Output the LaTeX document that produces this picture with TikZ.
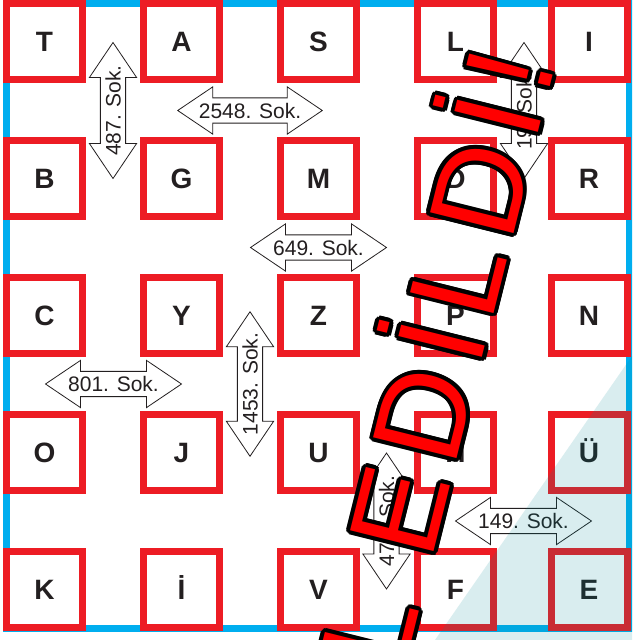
\documentclass[tikz,border=0pt]{standalone}
\usepackage{fontspec}
\setmainfont{Liberation Sans}
\newfontfamily\stampfont[LetterSpace=10]{Liberation Sans}
\usetikzlibrary{shapes.arrows}
\definecolor{mapred}{HTML}{ED1C24}
\definecolor{mapblue}{HTML}{00AEEF}
\definecolor{mapink}{HTML}{231F20}
\definecolor{mapteal}{HTML}{008B96}
\definecolor{stampred}{HTML}{FF0000}

\begin{document}
\begin{tikzpicture}[x=1pt,y=-1pt,
  block/.style={draw=mapred, line width=7pt, fill=white, minimum size=76pt, inner sep=0pt,
    text height=20pt, text depth=0pt, font=\bfseries\fontsize{28}{32}\selectfont, text=mapink},
  street/.style={shape=double arrow, draw=mapink, line width=0.8pt, fill=white,
    double arrow head extend=11pt, double arrow tip angle=68, minimum height=136pt,
    inner xsep=2pt, inner ysep=4.5pt, font=\fontsize{21}{24}\selectfont, text=mapink},
  stamp/.style={anchor=base west, inner sep=0pt, rotate=76, font=\stampfont\fontsize{125}{140}\selectfont}]
  \useasboundingbox (0,0) rectangle (632,640);
  \clip (0,0) rectangle (632,640);
  \fill[white] (0,0) rectangle (632,640);

  % Outer road
  \draw[mapblue, line width=7pt] (6.5,3.5) rectangle (629,628);

  % Blocks, row by row
  \node[block] (sqT) at (44.5,41.5) {T};
  \node[block] (sqA) at (181.5,41.5) {A};
  \node[block] (sqS) at (318.5,41.5) {S};
  \node[block] (sqL) at (455.5,41.5) {L};
  \node[block] (sqI) at (589,41.5) {I};

  \node[block] (sqB) at (44.5,178.5) {B};
  \node[block] (sqG) at (181.5,178.5) {G};
  \node[block] (sqM) at (318.5,178.5) {M};
  \node[block] (sqD) at (455.5,178.5) {D};
  \node[block] (sqR) at (589,178.5) {R};

  \node[block] (sqC) at (44.5,315.5) {C};
  \node[block] (sqY) at (181.5,315.5) {Y};
  \node[block] (sqZ) at (318.5,315.5) {Z};
  \node[block] (sqP) at (455.5,315.5) {P};
  \node[block] (sqN) at (589,315.5) {N};

  \node[block] (sqO) at (44.5,452.5) {O};
  \node[block] (sqJ) at (181.5,452.5) {J};
  \node[block] (sqU) at (318.5,452.5) {U};
  \node[block] (sqH) at (455.5,452.5) {H};
  \node[block] (sqUe) at (589,452.5) {Ü};

  \node[block] (sqK) at (44.5,589.5) {K};
  \node[block] (sqIi) at (181.5,589.5) {İ};
  \node[block] (sqV) at (318.5,589.5) {V};
  \node[block] (sqF) at (455.5,589.5) {F};
  \node[block] (sqE) at (589,589.5) {E};

  % Street signs
  \node[street, rotate=90] (st487) at (113,110.5) {487. Sok.};
  \node[street] (st2548) at (250,110.5) {2548. Sok.};
  \node[street, rotate=90] (st19) at (524,110.5) {19. Sok.};
  \node[street] (st649) at (318.5,247.5) {649. Sok.};
  \node[street] (st801) at (113.5,384) {801. Sok.};
  \node[street, rotate=90] (st1453) at (250,384) {1453. Sok.};
  \node[street, rotate=90] (st478) at (386.5,521) {478. Sok.};
  \node[street] (st149) at (523.5,521) {149. Sok.};

  % Corner tint
  \fill[mapteal, fill opacity=0.15] (632,356) -- (632,640) -- (435,640) -- cycle;

  % Stamp
  \foreach \i in {0,...,15}
    \node[stamp, text=black, shift={(\i*22.5:4)}] (rim\i) at (326.4,984.1) {İPTAL EDİLDİ!};
  \node[stamp, text=stampred] (stamp) at (326.4,984.1) {İPTAL EDİLDİ!};
\end{tikzpicture}
\end{document}
